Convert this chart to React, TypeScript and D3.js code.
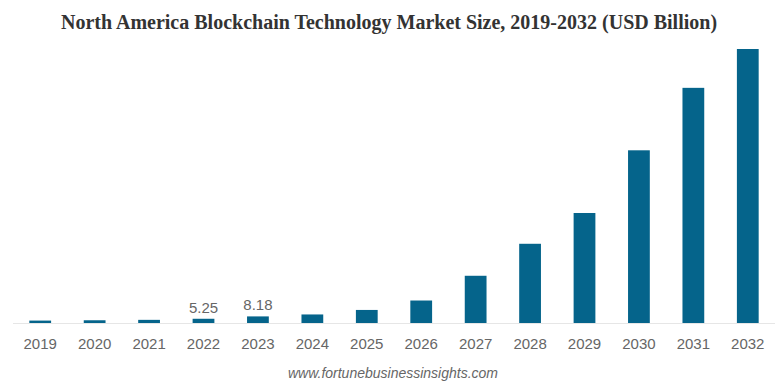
import React from 'react'
import { scaleBand, scaleLinear } from 'd3'

const years = ['2019', '2020', '2021', '2022', '2023', '2024', '2025', '2026', '2027', '2028', '2029', '2030', '2031', '2032']
const marketSize = [3.0, 3.4, 3.9, 5.25, 8.18, 10.6, 16.2, 27.9, 58.6, 98.3, 136.5, 214.3, 291.8, 340]
const labelledYears = ['2022', '2023']

const W = 778
const H = 387
const baseY = 323

const App = () => {
  const x = scaleBand().domain(years).range([13, 775]).paddingInner(0.6).paddingOuter(0.3)
  const y = scaleLinear().domain([0, 340]).range([baseY, 49])

  return (
    <svg width={W} height={H} style={{ position: 'absolute', left: 0, top: 0 }}>
      <text x={389} y={29} textAnchor="middle" fontFamily="'Liberation Serif', serif" fontWeight="bold" fontSize={20} fill="#333">
        North America Blockchain Technology Market Size, 2019-2032 (USD Billion)
      </text>
      <line x1={13} x2={775} y1={baseY + 0.5} y2={baseY + 0.5} stroke="#e6e6e6" />
      {years.map((yr, i) => (
        <g key={yr}>
          <rect x={x(yr)} y={y(marketSize[i])} width={x.bandwidth()} height={baseY - y(marketSize[i])} fill="#05648b" />
          <text x={x(yr)! + x.bandwidth() / 2} y={349} textAnchor="middle" fontFamily="'Liberation Sans', Arial, sans-serif" fontSize={15} fill="#666">
            {yr}
          </text>
          {labelledYears.includes(yr) && (
            <text x={x(yr)! + x.bandwidth() / 2} y={y(marketSize[i]) - 6} textAnchor="middle" fontFamily="'Liberation Sans', Arial, sans-serif" fontSize={15} fill="#666">
              {marketSize[i].toFixed(2)}
            </text>
          )}
        </g>
      ))}
      <text x={393} y={378} textAnchor="middle" fontFamily="'Liberation Sans', Arial, sans-serif" fontStyle="italic" fontSize={14} fill="#666">
        www.fortunebusinessinsights.com
      </text>
    </svg>
  )
}

export default App
